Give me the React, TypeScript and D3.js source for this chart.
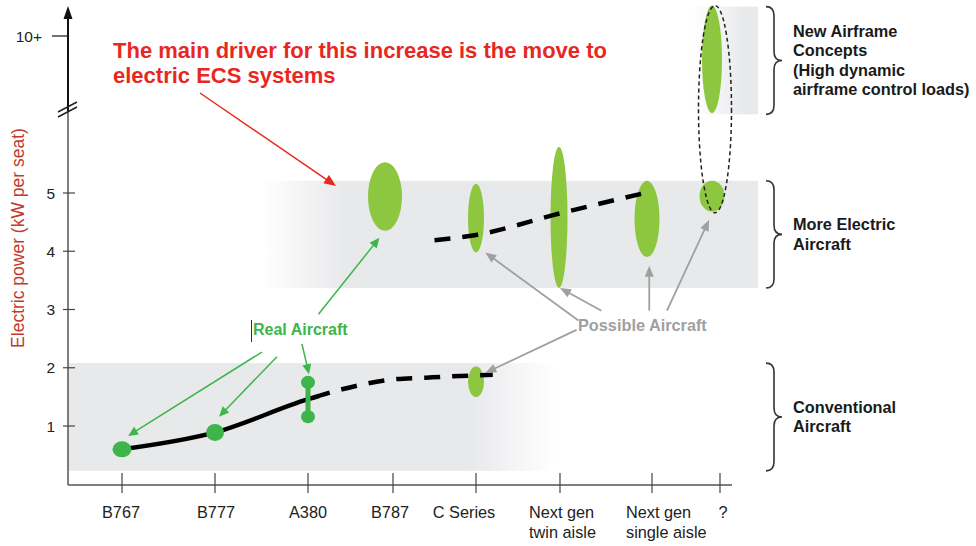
import React from "react";
import * as d3 from "d3";

// ---------- data ----------
const categories = ["B767", "B777", "A380", "B787", "C Series", "Next gen twin aisle", "Next gen single aisle", "?"];
const categoryLabels = [["B767"], ["B777"], ["A380"], ["B787"], ["C Series"], ["Next gen", "twin aisle"], ["Next gen", "single aisle"], ["?"]];
const yTickValues = [1, 2, 3, 4, 5];
const yTopTick = { value: 10, label: "10+" };

// real (existing) aircraft: electric power kW per seat
const realAircraft = [
  { category: "B767", low: 0.6, high: 0.6 },
  { category: "B777", low: 0.89, high: 0.89 },
  { category: "A380", low: 1.16, high: 1.75 },
];

// possible aircraft ranges
const possibleAircraft = [
  { category: "B787", low: 4.35, high: 5.53 },
  { category: "C Series", low: 3.98, high: 5.16 },
  { category: "Next gen twin aisle", low: 3.37, high: 5.79 },
  { category: "Next gen single aisle", low: 3.9, high: 5.21 },
  { category: "?", low: 4.68, high: 5.21 },
  { category: "?", low: 6.37, high: 11.45 },
  { category: "C Series", low: 1.5, high: 2.02 },
];

// trend lines: [category index, kW per seat]
const conventionalTrend: [number, number][] = [[0, 0.6], [1, 0.89], [2, 1.46], [2.4, 1.63], [3, 1.8], [3.4, 1.83], [4, 1.87], [4.2, 1.88]];
const moreElectricTrend: [number, number][] = [[3.5, 4.19], [4, 4.28], [5, 4.65], [6, 5.03]];

// bands
const bands = [
  { name: "Conventional", low: 0.23, high: 2.08, lines: ["Conventional", "Aircraft"] },
  { name: "MoreElectric", low: 3.37, high: 5.21, lines: ["More Electric", "Aircraft"] },
  { name: "NewAirframe", low: 6.35, high: 11.4, lines: ["New Airframe", "Concepts", "(High dynamic", "airframe control loads)"] },
];

const enveloping = { category: "?", low: 4.66, high: 11.45 };

// annotation arrows in data coords [index, value] -> [index, value]
const realArrows: [number, number, number, number][] = [
  [1.505, 2.27, 0.065, 0.83],
  [1.667, 2.19, 1.043, 1.16],
  [1.935, 2.41, 2.012, 1.89],
  [2.123, 2.92, 2.84, 4.23],
];
const possibleArrows: [number, number, number, number][] = [
  [5.2, 2.81, 4.11, 3.98],
  [5.45, 2.98, 5.0, 3.37],
  [5.97, 2.98, 5.97, 3.75],
  [6.22, 2.98, 6.84, 4.54],
  [5.18, 2.65, 4.11, 1.91],
];

const titleLines = ["The main driver for this increase is the move to", "electric ECS systems"];
const yTitle = "Electric power (kW per seat)";

// ---------- layout / style ----------
const W = 976, H = 546;
const tickPos = [122, 215, 308, 393, 476, 560, 652, 720];
const labelDx = [-1, 1, 0, -3, -12, -31, -26, 3];
const labelAnchor = ["middle", "middle", "middle", "middle", "middle", "start", "start", "middle"];
const axisX = 68, axisY = 485;
const FONT = "'Liberation Sans', Arial, sans-serif";
const BAND = "#e8e9eb";
const ELLIPSE = "#8dc63f";
const REAL = "#3db54a";
const GREY = "#a0a0a0";
const RED = "#e8281e";
const ellipseRx = [17, 8, 8.5, 12.5, 12.5, 10, 8];
const ellipseDx = [-8, 0, -1, -5, -8, -8, 0];
const envelopeDx = -5;
const realRx = [9.5, 9, 7];
const realRy = [8, 8.5, 6.5];
const bandX = [
  { x0: axisX, fadeA: 470, fadeB: 555, x1: 555, dir: "out" },
  { x0: 262, fadeA: 262, fadeB: 345, x1: 758, dir: "in" },
  { x0: 692, fadeA: 692, fadeB: 745, x1: 758, dir: "in" },
];
const braceX = 766;
const DASH = "16 12";

const x = d3.scaleLinear().domain(d3.range(categories.length)).range(tickPos);
const y = d3.scaleLinear().domain([0, 6.4, 10, 12]).range([484.25, 111.45, 36, -6]);
const xc = (c: string) => x(categories.indexOf(c));

function arrow(x1: number, y1: number, x2: number, y2: number, color: string, L: number, w: number, sw: number, key: string) {
  const dx = x2 - x1, dy = y2 - y1;
  const len = Math.hypot(dx, dy);
  const ux = dx / len, uy = dy / len;
  const bx = x2 - ux * L, by = y2 - uy * L;
  const px = -uy, py = ux;
  return (
    <g key={key}>
      <line x1={x1} y1={y1} x2={bx + ux * 1} y2={by + uy * 1} stroke={color} strokeWidth={sw} />
      <polygon points={`${x2},${y2} ${bx + px * w},${by + py * w} ${bx - px * w},${by - py * w}`} fill={color} />
    </g>
  );
}

function bracePath(x0: number, y1: number, y2: number, w = 16, r = 9) {
  const ym = (y1 + y2) / 2;
  const xm = x0 + w / 2;
  return `M${x0},${y1} Q${xm},${y1} ${xm},${y1 + r} L${xm},${ym - r} Q${xm},${ym} ${x0 + w},${ym} Q${xm},${ym} ${xm},${ym + r} L${xm},${y2 - r} Q${xm},${y2} ${x0},${y2}`;
}

export default function App() {
  const line = d3.line<[number, number]>().x((d) => x(d[0])).y((d) => y(d[1])).curve(d3.curveMonotoneX);
  const solidEnd = x(2.14);
  return (
    <svg width={W} height={H} style={{ position: "absolute", left: 0, top: 0, background: "#fff" }} fontFamily={FONT}>
      <defs>
        {bands.map((b, i) => {
          const bx = bandX[i];
          return (
            <linearGradient key={b.name} id={`g${i}`} gradientUnits="userSpaceOnUse" x1={bx.fadeA} x2={bx.fadeB} y1={0} y2={0}>
              <stop offset="0" stopColor={BAND} stopOpacity={bx.dir === "out" ? 1 : 0} />
              <stop offset="1" stopColor={BAND} stopOpacity={bx.dir === "out" ? 0 : 1} />
            </linearGradient>
          );
        })}
        <clipPath id="solidClip"><rect x={0} y={0} width={solidEnd} height={H} /></clipPath>
        <clipPath id="dashClip"><rect x={solidEnd} y={0} width={W} height={H} /></clipPath>
      </defs>

      {/* bands */}
      {bands.map((b, i) => (
        <rect key={b.name} x={bandX[i].x0} width={bandX[i].x1 - bandX[i].x0} y={y(b.high)} height={y(b.low) - y(b.high)} fill={`url(#g${i})`} />
      ))}

      {/* braces + labels */}
      {bands.map((b) => {
        const y1 = y(b.high), y2 = y(b.low);
        const ym = (y1 + y2) / 2;
        const n = b.lines.length;
        const lh = 19.3;
        return (
          <g key={"br" + b.name}>
            <path d={bracePath(braceX, y1, y2)} fill="none" stroke="#333" strokeWidth={1.6} />
            {b.lines.map((t, j) => (
              <text key={j} x={793} y={ym + (j - (n - 1) / 2) * lh + 5.5} fontSize={16.3} fontWeight="bold" fill="#1a1a1a">{t}</text>
            ))}
          </g>
        );
      })}

      {/* axes */}
      <line x1={axisX} y1={axisY} x2={axisX} y2={111} stroke="#555" strokeWidth={1.5} />
      <line x1={axisX} y1={111} x2={axisX} y2={16} stroke="#111" strokeWidth={2} />
      <polygon points={`${axisX},6 ${axisX - 4.5},19 ${axisX + 4.5},19`} fill="#111" />
      <line x1={58} y1={117} x2={77} y2={107} stroke="#222" strokeWidth={1.5} />
      <line x1={58} y1={112} x2={77} y2={102} stroke="#222" strokeWidth={1.5} />
      <line x1={axisX} y1={axisY} x2={732} y2={axisY} stroke="#555" strokeWidth={1.5} />
      {categories.map((c, i) => (
        <g key={c}>
          <line x1={x(i)} x2={x(i)} y1={473} y2={493} stroke="#444" strokeWidth={1.2} />
          {categoryLabels[i].map((t, j) => (
            <text key={j} x={x(i) + labelDx[i]} y={518 + j * 20} textAnchor={labelAnchor[i]} fontSize={16.3} fill="#222">{t}</text>
          ))}
        </g>
      ))}
      {yTickValues.map((v) => (
        <g key={v}>
          <line x1={63} x2={75} y1={y(v)} y2={y(v)} stroke="#444" strokeWidth={1.2} />
          <text x={55} y={y(v) + 5.5} textAnchor="end" fontSize={15.5} fill="#222">{v}</text>
        </g>
      ))}
      <line x1={52} x2={axisX} y1={y(yTopTick.value)} y2={y(yTopTick.value)} stroke="#222" strokeWidth={1.3} />
      <text x={42} y={y(yTopTick.value) + 5.5} textAnchor="end" fontSize={15.5} fill="#222">{yTopTick.label}</text>
      <text transform={`translate(24,${238}) rotate(-90)`} textAnchor="middle" fontSize={17.5} fill="#c4392d">{yTitle}</text>

      {/* possible aircraft ellipses */}
      {possibleAircraft.map((p, i) => (
        <ellipse key={"p" + i} cx={xc(p.category) + ellipseDx[i]} cy={(y(p.low) + y(p.high)) / 2} rx={ellipseRx[i]} ry={(y(p.low) - y(p.high)) / 2} fill={ELLIPSE} />
      ))}
      <ellipse cx={xc(enveloping.category) + envelopeDx} cy={(y(enveloping.low) + y(enveloping.high)) / 2} rx={16.5} ry={(y(enveloping.low) - y(enveloping.high)) / 2} fill="none" stroke="#222" strokeWidth={1.5} strokeDasharray="4 3" />

      {/* trend lines */}
      <path d={line(conventionalTrend) || ""} fill="none" stroke="#000" strokeWidth={4.5} clipPath="url(#solidClip)" />
      <path d={line(conventionalTrend) || ""} fill="none" stroke="#000" strokeWidth={4.5} strokeDasharray={DASH} strokeDashoffset={-4} clipPath="url(#dashClip)" />
      <path d={line(moreElectricTrend) || ""} fill="none" stroke="#000" strokeWidth={4.5} strokeDasharray={DASH} />

      {/* real aircraft */}
      {realAircraft.map((r, i) => {
        const cx = xc(r.category);
        if (r.low === r.high) {
          return <ellipse key={"r" + i} cx={cx} cy={y(r.low)} rx={realRx[i]} ry={realRy[i]} fill={REAL} />;
        }
        return (
          <g key={"r" + i}>
            <line x1={cx} x2={cx} y1={y(r.low)} y2={y(r.high)} stroke={REAL} strokeWidth={5} />
            <ellipse cx={cx} cy={y(r.low)} rx={realRx[i]} ry={realRy[i]} fill={REAL} />
            <ellipse cx={cx} cy={y(r.high)} rx={realRx[i]} ry={realRy[i]} fill={REAL} />
          </g>
        );
      })}

      {/* annotations */}
      {realArrows.map((a, i) => arrow(x(a[0]), y(a[1]), x(a[2]), y(a[3]), REAL, 10, 4.5, 1.5, "ra" + i))}
      {possibleArrows.map((a, i) => arrow(x(a[0]), y(a[1]), x(a[2]), y(a[3]), GREY, 11, 4.5, 1.8, "pa" + i))}
      {arrow(200, 93, x(2.33), y(5.12), RED, 12, 5, 1.5, "red")}

      <line x1={251.5} x2={251.5} y1={320} y2={342} stroke="#333" strokeWidth={1} />
      <text x={253} y={335} fontSize={16} fontWeight="bold" fill={REAL}>Real Aircraft</text>
      <text x={578} y={331} fontSize={16.3} fontWeight="bold" fill={GREY}>Possible Aircraft</text>

      {titleLines.map((t, i) => (
        <text key={i} x={113} y={58 + i * 25} fontSize={22} fontWeight="bold" fill={RED}>{t}</text>
      ))}
    </svg>
  );
}
